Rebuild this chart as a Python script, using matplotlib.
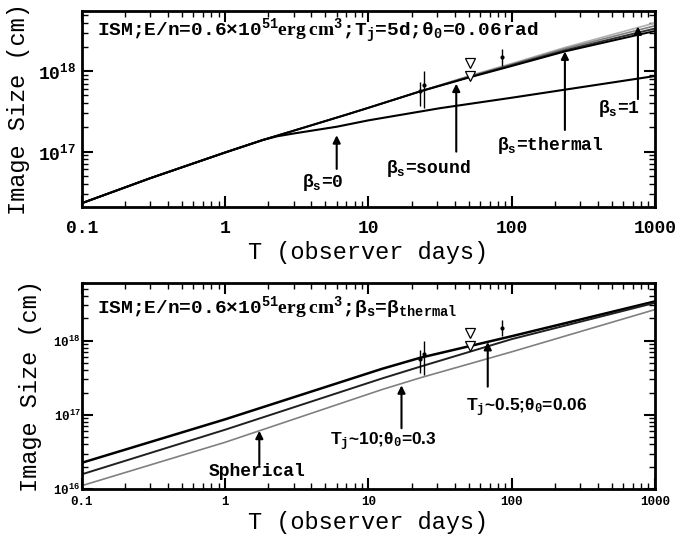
import matplotlib
matplotlib.use("Agg")
import matplotlib.pyplot as plt
from matplotlib.ticker import NullFormatter, FixedLocator, FixedFormatter, LogLocator

plt.rcParams['font.family'] = ['Liberation Mono', 'DejaVu Sans']
plt.rcParams['font.weight'] = 'bold'
plt.rcParams['mathtext.fontset'] = 'custom'
plt.rcParams['mathtext.rm'] = 'Liberation Mono:bold'
plt.rcParams['mathtext.it'] = 'Liberation Mono:bold'
plt.rcParams['mathtext.bf'] = 'Liberation Mono:bold'
plt.rcParams['mathtext.sf'] = 'Liberation Serif'

# ---- top panel: different sideways expansion speeds (T_j = 5 d) ----
t_top = [0.1, 0.3, 1, 1.84, 3, 7, 10, 23, 50, 100, 235, 1000]
size_beta1 = [2.29e16, 4.68e16, 9.77e16, 1.40e17, 1.82e17, 2.88e17, 3.51e17, 5.62e17, 8.71e17, 1.245e18, 1.97e18, 3.98e18]
size_beta_a = [2.29e16, 4.68e16, 9.77e16, 1.40e17, 1.82e17, 2.88e17, 3.51e17, 5.62e17, 8.61e17, 1.216e18, 1.905e18, 3.67e18]
size_thermal = [2.29e16, 4.68e16, 9.77e16, 1.40e17, 1.82e17, 2.88e17, 3.51e17, 5.62e17, 8.41e17, 1.19e18, 1.82e18, 3.39e18]
size_sound = [2.29e16, 4.68e16, 9.77e16, 1.40e17, 1.82e17, 2.88e17, 3.51e17, 5.62e17, 8.32e17, 1.16e18, 1.76e18, 3.16e18]

t_beta0 = [0.1, 0.3, 1, 1.84, 2.3, 3, 6, 10, 31.6, 100, 1000]
size_beta0 = [2.29e16, 4.68e16, 9.77e16, 1.40e17, 1.55e17, 1.68e17, 2.04e17, 2.45e17, 3.47e17, 4.68e17, 8.71e17]

# ---- bottom panel: different jet opening angles ----
t_bot = [0.1, 1, 12.4, 23, 100, 1000]
size_j05 = [2.26e16, 8.71e16, 4.17e17, 5.89e17, 1.15e18, 3.39e18]
size_j10 = [1.58e16, 6.31e16, 3.09e17, 4.47e17, 1.05e18, 3.24e18]
size_sph = [1.11e16, 4.27e16, 2.19e17, 3.16e17, 7.08e17, 2.63e18]

# ---- observations ----
obs_t = [23, 24.5, 85]
obs_size = [5.6e17, 6.7e17, 1.5e18]
obs_lo = [3.7e17, 3.5e17, 1.15e18]
obs_hi = [7.4e17, 1.0e18, 1.9e18]
lim_t = [51, 51]
lim_size = [1.27e18, 8.6e17]

xticks = [0.1, 1, 10, 100, 1000]
xticklabels = ['0.1', '1', '10', '100', '1000']

# annotations: label, font family, size, text position, arrow tail, arrow tip
top_notes = [
    (r'β$_s$=0', 'Liberation Mono', 13, (4.8, 4.1e16), (6.0, 6.1e16), (6.0, 1.6e17)),
    (r'β$_s$=sound', 'Liberation Mono', 13, (26, 6.2e16), (41, 1.0e17), (41, 7.0e17)),
    (r'β$_s$=thermal', 'Liberation Mono', 13, (185, 1.2e17), (235, 1.86e17), (235, 1.76e18)),
    (r'β$_s$=1', 'Liberation Mono', 13, (560, 3.4e17), (760, 4.5e17), (760, 3.6e18)),
]
bot_notes = [
    ('Spherical', 'Liberation Mono', 13, (1.67, 1.7e16), (1.73, 2.1e16), (1.73, 6.1e16)),
    (r'T$_j$~10;θ$_0$=0.3', 'Liberation Sans', 12.5, (12.6, 4.4e16), (17, 6.6e16), (17, 2.5e17)),
    (r'T$_j$~0.5;θ$_0$=0.06', 'Liberation Sans', 12.5, (127, 1.23e17), (68, 2.4e17), (68, 9.6e17)),
]

fig = plt.figure(figsize=(6.83, 5.37), dpi=100)
ax1 = fig.add_axes([0.120, 0.6145, 0.839, 0.365])
ax2 = fig.add_axes([0.120, 0.0894, 0.839, 0.3836])


def style(ax, ylim, ticksize, xpad, ypad):
    ax.set_xscale('log')
    ax.set_yscale('log')
    ax.set_xlim(0.1, 1000)
    ax.set_ylim(*ylim)
    ax.xaxis.set_major_locator(FixedLocator(xticks))
    ax.xaxis.set_major_formatter(FixedFormatter(xticklabels))
    ax.xaxis.set_minor_locator(LogLocator(base=10, subs=range(2, 10)))
    ax.xaxis.set_minor_formatter(NullFormatter())
    ax.yaxis.set_minor_locator(LogLocator(base=10, subs=range(2, 10)))
    ax.yaxis.set_minor_formatter(NullFormatter())
    ax.tick_params(which='both', direction='in', top=True, right=True)
    ax.tick_params(which='major', length=8, width=1.5, labelsize=ticksize)
    ax.tick_params(which='minor', length=4, width=1)
    ax.tick_params(axis='x', pad=xpad)
    ax.tick_params(axis='y', pad=ypad)
    for sp in ax.spines.values():
        sp.set_linewidth(2)


def draw_obs(ax):
    ax.errorbar(obs_t, obs_size,
                yerr=[[s - l for s, l in zip(obs_size, obs_lo)],
                      [h - s for s, h in zip(obs_size, obs_hi)]],
                fmt='o', ms=2, color='k', elinewidth=1, capsize=0)
    ax.plot(lim_t, lim_size, 'v', ms=7, mfc='white', mec='k', mew=0.9)


def draw_notes(ax, notes):
    for label, fam, fs, tpos, tail, tip in notes:
        ax.annotate('', xy=tip, xytext=tail,
                    arrowprops=dict(arrowstyle='-|>', color='k', lw=1.5,
                                    mutation_scale=11, shrinkA=0, shrinkB=0))
        ax.text(tpos[0], tpos[1], label, fontsize=fs, ha='center', va='center',
                family=[fam, 'DejaVu Sans'])


# top panel
ax1.plot(t_top, size_beta1, color='#b0b0b0', lw=1.2)
ax1.plot(t_top, size_beta_a, color='#808080', lw=1.2)
ax1.plot(t_top, size_thermal, color='#303030', lw=1.4)
ax1.plot(t_top, size_sound, color='k', lw=1.4)
ax1.plot(t_beta0, size_beta0, color='k', lw=1.5)
draw_obs(ax1)
style(ax1, (2.05e16, 5.6e18), 13, 9, 4)
draw_notes(ax1, top_notes)
ax1.text(0.026, 0.90,
         r'ISM;E/n=0.6×10$^{51}$$\mathsf{erg\ cm}^{3}$;T$_j$=5d;θ$_0$=0.06$\,$rad',
         fontsize=14, va='center', transform=ax1.transAxes)
ax1.set_xlabel('T (observer days)', fontsize=17, labelpad=3)
ax1.set_ylabel('Image Size (cm)', fontsize=17, labelpad=6)

# bottom panel
ax2.plot(t_bot, size_j05, color='k', lw=1.8)
ax2.plot(t_bot, size_j10, color='#202020', lw=1.4)
ax2.plot(t_bot, size_sph, color='#808080', lw=1.2)
draw_obs(ax2)
style(ax2, (1e16, 6e18), 9, 5, 1)
draw_notes(ax2, bot_notes)
ax2.text(0.026, 0.88,
         r'ISM;E/n=0.6×10$^{51}$$\mathsf{erg\ cm}^{3}$;β$_s$=β$_{thermal}$',
         fontsize=14, va='center', transform=ax2.transAxes)
ax2.set_xlabel('T (observer days)', fontsize=17, labelpad=2)
ax2.set_ylabel('Image Size (cm)', fontsize=17, labelpad=8)

fig.savefig('out.png', dpi=100)
